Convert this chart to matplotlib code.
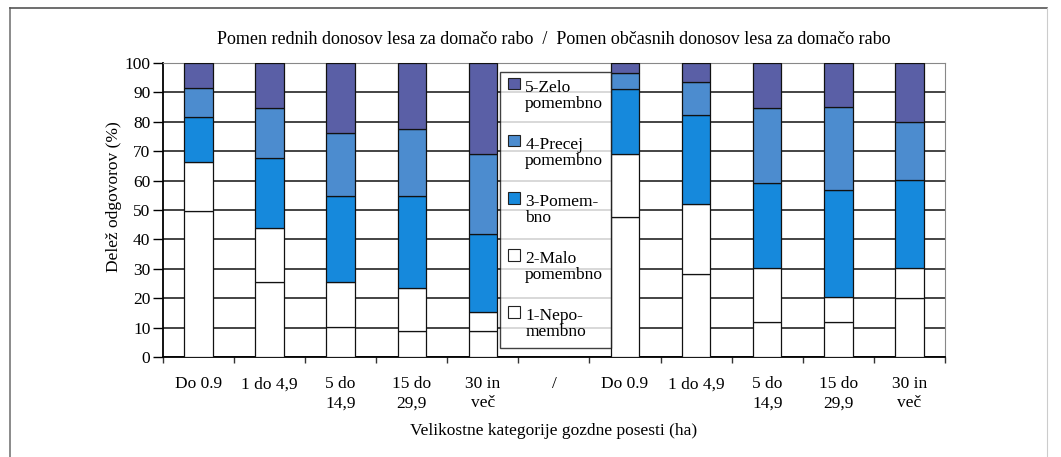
import matplotlib
matplotlib.use("Agg")
import matplotlib.pyplot as plt
import numpy as np
from matplotlib.patches import Patch, Rectangle
from matplotlib.lines import Line2D
from matplotlib.legend_handler import HandlerPatch

plt.rcParams['font.family'] = ['Liberation Serif', 'DejaVu Serif']

# data (shares in %)
categories = ["Do 0.9", "1 do 4,9", "5 do\n14,9", "15 do\n29,9", "30 in\nveč", "/",
              "Do 0.9", "1 do 4,9", "5 do\n14,9", "15 do\n29,9", "30 in\nveč"]
nepomembno = [49.7, 25.6, 10.3, 8.8, 8.8, 0, 47.5, 28.2, 12.0, 12.0, 20.0]
malo_pomembno = [16.5, 18.2, 15.3, 14.6, 6.6, 0, 21.4, 23.8, 18.2, 8.5, 10.2]
pomembno = [15.5, 23.8, 29.2, 31.4, 26.3, 0, 22.1, 30.3, 29.1, 36.3, 30.0]
precej_pomembno = [9.9, 17.0, 21.3, 22.8, 27.2, 0, 5.5, 11.4, 25.5, 28.3, 19.8]
zelo_pomembno = [8.4, 15.4, 23.9, 22.4, 31.1, 0, 3.5, 6.3, 15.2, 14.9, 20.0]

series = [
    (nepomembno, 'white', '1-Nepo-\nmembno'),
    (malo_pomembno, 'white', '2-Malo\npomembno'),
    (pomembno, '#1689dc', '3-Pomem-\nbno'),
    (precej_pomembno, '#4c8ccf', '4-Precej\npomembno'),
    (zelo_pomembno, '#5a5fa6', '5-Zelo\npomembno'),
]

FS = 12.5


def top_square(legend, orig_handle, xdescent, ydescent, width, height, fontsize):
    # small square next to the first line of a two-line label
    sq = 0.68 * fontsize
    return Rectangle((-xdescent, -ydescent + height - sq + 0.3 * fontsize), sq, sq)


fig = plt.figure(figsize=(10.61, 4.57), dpi=100)
fig.patch.set_facecolor('white')
ax = fig.add_axes([0.1536, 0.2188, 0.737, 0.6433])

x = np.arange(len(categories))
bottom = np.zeros(len(categories))
handles = []
for vals, col, lbl in series:
    ax.bar(x, vals, width=0.4, bottom=bottom, color=col, edgecolor='#111111',
           linewidth=0.9, zorder=3)
    bottom += np.array(vals)
    handles.append(Patch(facecolor=col, edgecolor='#222222', linewidth=0.8, label=lbl))

ax.set_xlim(-0.5, len(categories) - 0.5)
ax.set_ylim(0, 100)
ax.set_yticks(np.arange(0, 101, 10))
ax.yaxis.grid(True, color='#111111', linewidth=1.1, zorder=0)
ax.set_axisbelow(True)

ax.set_xticks(x)
ax.set_xticklabels(categories, fontsize=FS, linespacing=1.25)
ax.set_xticks(np.arange(-0.5, len(categories), 1), minor=True)
ax.tick_params(axis='x', which='major', length=0, pad=14)
ax.tick_params(axis='x', which='minor', length=4, width=1, color='#333333')
ax.tick_params(axis='y', length=7, width=1, labelsize=FS, pad=2)

for s in ['top', 'right']:
    ax.spines[s].set_color('#888888')
    ax.spines[s].set_linewidth(0.8)
ax.spines['left'].set_linewidth(1.3)
ax.spines['bottom'].set_linewidth(1.3)

ax.set_ylabel('Delež odgovorov (%)', fontsize=FS)
ax.yaxis.set_label_coords(-0.052, 0.545)
ax.set_xlabel('Velikostne kategorije gozdne posesti (ha)', fontsize=FS, labelpad=8)
ax.set_title('Pomen rednih donosov lesa za domačo rabo  /  Pomen občasnih donosov lesa za domačo rabo',
             fontsize=13, pad=14)

leg = ax.legend(handles=handles[::-1], loc='upper left', bbox_to_anchor=(0.431, 0.97),
                fontsize=FS, frameon=True, fancybox=False, handlelength=0.7,
                handleheight=2.0, handletextpad=0.3, labelspacing=1.45,
                borderpad=0.45, borderaxespad=0,
                handler_map={Patch: HandlerPatch(patch_func=top_square)})
for t in leg.get_texts():
    t.set_linespacing(1.0)
leg.get_frame().set_edgecolor('#111111')
leg.get_frame().set_linewidth(1.0)
leg.set_zorder(5)

# outer frame of the scanned figure
fig.add_artist(Line2D([10 / 1061, 10 / 1061], [0, 1 - 8 / 457], transform=fig.transFigure,
                      color='#777777', linewidth=1.2))
fig.add_artist(Line2D([10 / 1061, 1047 / 1061], [1 - 8 / 457, 1 - 8 / 457], transform=fig.transFigure,
                      color='#555555', linewidth=1.2))
fig.add_artist(Line2D([1047 / 1061, 1047 / 1061], [0, 1 - 8 / 457], transform=fig.transFigure,
                      color='#cccccc', linewidth=0.8))

fig.savefig('out.png', dpi=100)
